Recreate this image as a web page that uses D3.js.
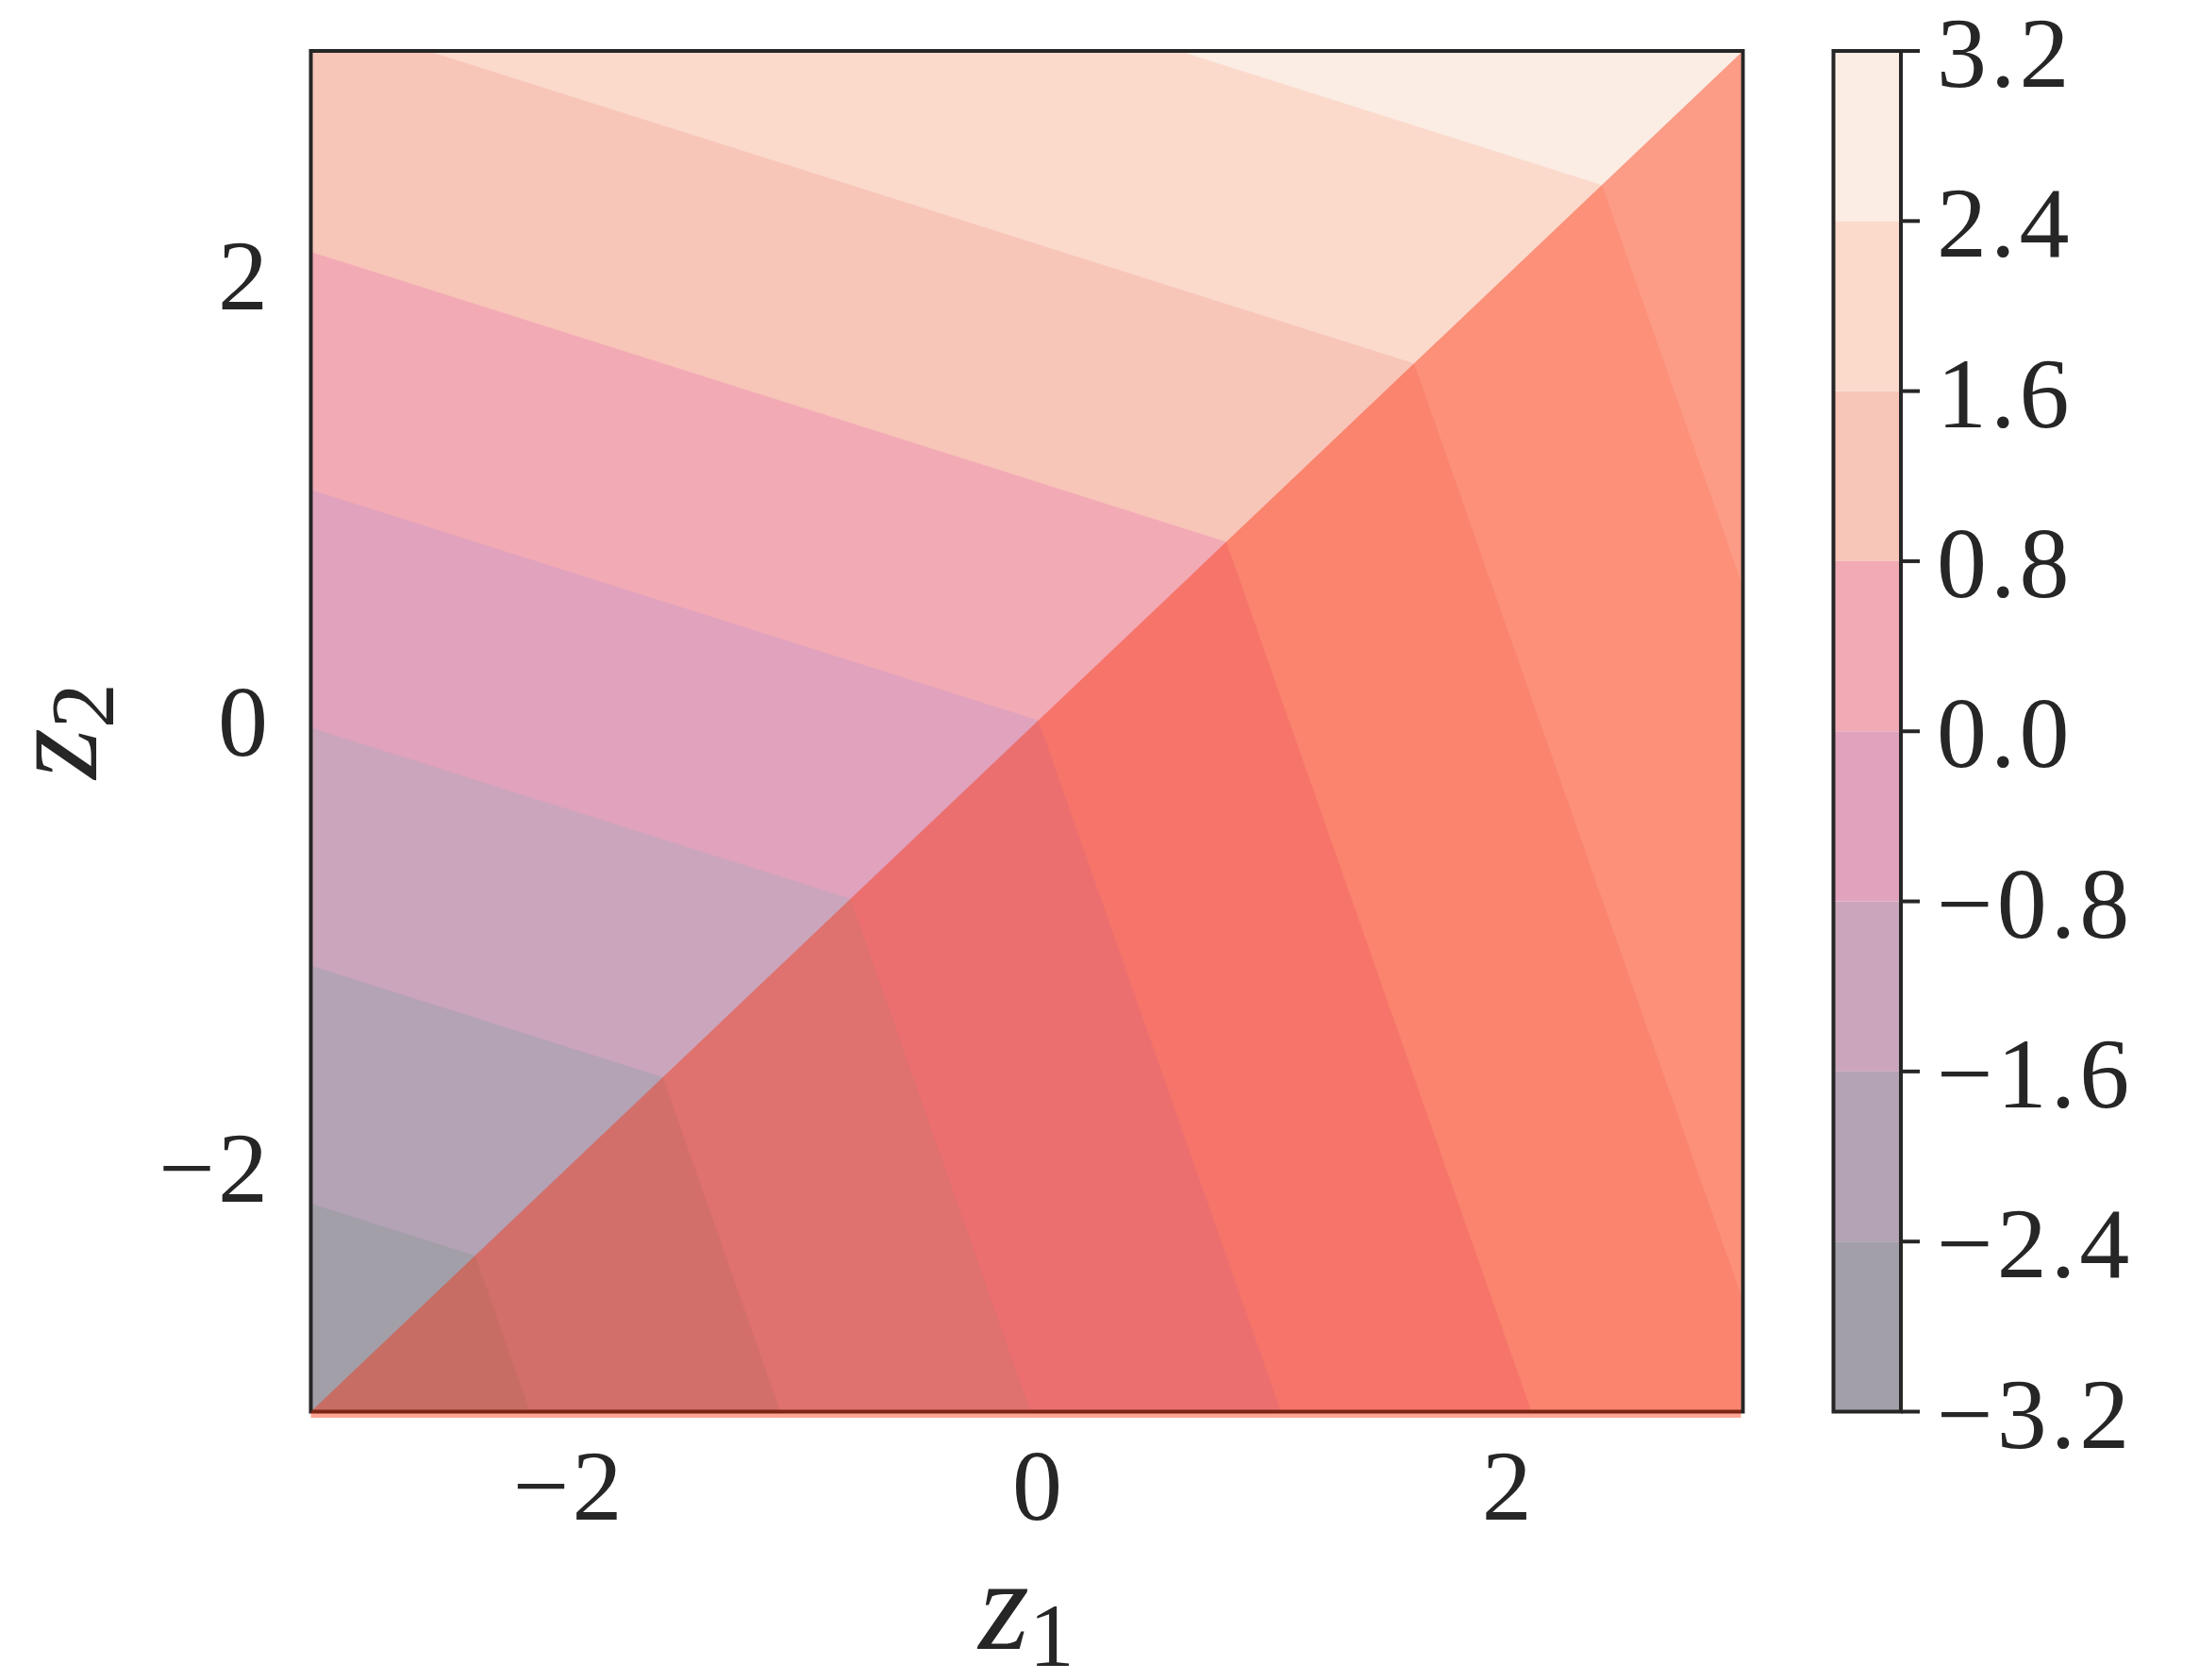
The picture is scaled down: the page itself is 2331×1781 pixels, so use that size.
<!DOCTYPE html>
<html>
<head>
<meta charset="utf-8">
<script src="https://cdn.jsdelivr.net/npm/d3@7"></script>
<style>
  body { margin: 0; background: #fff; }
  text { font-family: "Liberation Serif", "Times New Roman", serif; fill: #262626; }
</style>
</head>
<body>
<div id="vis"></div>
<script>
// data
var domainZ = [-3.1, 3.0];                 // z1 and z2 extent of the grid
var weights = {max: 0.75, min: 0.25};      // f = 0.75*max(z1,z2) + 0.25*min(z1,z2)
var levels = [-3.2, -2.4, -1.6, -0.8, 0.0, 0.8, 1.6, 2.4, 3.2];
var levelColors = ["#a29fa9", "#b4a2b5", "#cba5bb", "#e0a2bd", "#f2aab5", "#f8c5b9", "#fbdacc", "#fbede4"];
var overlayColor = "rgba(253,40,0,0.41)";   // red wash over the z2 < z1 half
var xTicks = [-2, 0, 2];
var yTicks = [-2, 0, 2];
var cbTicks = levels;

var W = 2331, H = 1781;
var svg = d3.select("#vis").append("svg").attr("width", W).attr("height", H);

// scales
var x = d3.scaleLinear().domain(domainZ).range([329.5, 1847.5]);
var y = d3.scaleLinear().domain(domainZ).range([1496.5, 54]);
var fmt = function(v, d){ var s = d3.format("." + d + "f")(v); return s.replace("-", "\u2212"); };

// grid of the function
var n = 610, m = 580;
var values = new Float64Array(n * m);
for (var j = 0; j < m; j++) {
  var z2 = domainZ[1] - (j + 0.5) * (domainZ[1] - domainZ[0]) / m;
  for (var i = 0; i < n; i++) {
    var z1 = domainZ[0] + (i + 0.5) * (domainZ[1] - domainZ[0]) / n;
    values[j * n + i] = weights.max * Math.max(z1, z2) + weights.min * Math.min(z1, z2);
  }
}
var gx = d3.scaleLinear().domain([0, n]).range([x(domainZ[0]), x(domainZ[1])]);
var gy = d3.scaleLinear().domain([0, m]).range([y(domainZ[1]), y(domainZ[0])]);
var path = d3.geoPath(d3.geoTransform({point: function(px, py){ this.stream.point(gx(px), gy(py)); }}));

svg.append("clipPath").attr("id", "plotclip").append("rect")
  .attr("x", x(domainZ[0])).attr("y", y(domainZ[1]))
  .attr("width", x(domainZ[1]) - x(domainZ[0])).attr("height", y(domainZ[0]) - y(domainZ[1]));

var contours = d3.contours().size([n, m]).thresholds(levels.slice(0, -1))(values);
svg.append("g").attr("clip-path", "url(#plotclip)")
  .selectAll("path").data(contours).enter().append("path")
  .attr("d", path)
  .attr("fill", function(d){ return levelColors[levels.indexOf(d.value)]; })
  .attr("stroke", function(d){ return levelColors[levels.indexOf(d.value)]; })
  .attr("stroke-width", 0.5);

// frame
svg.append("rect")
  .attr("x", x(domainZ[0])).attr("y", y(domainZ[1]))
  .attr("width", x(domainZ[1]) - x(domainZ[0])).attr("height", y(domainZ[0]) - y(domainZ[1]))
  .attr("fill", "none").attr("stroke", "#262626").attr("stroke-width", 4);

// red wash below the diagonal (runs over the bottom spine a little)
var ov = [[x(domainZ[0]), y(domainZ[0])], [x(domainZ[1]) - 2, y(domainZ[1]) + 2],
          [x(domainZ[1]) - 2, y(domainZ[0]) + 6.5], [x(domainZ[0]), y(domainZ[0]) + 6.5]];
svg.append("path").attr("d", "M" + ov.join("L") + "Z").attr("fill", overlayColor);

// tick labels
svg.append("g").selectAll("text").data(xTicks).enter().append("text")
  .attr("x", function(d){ return x(d); }).attr("y", 1611)
  .attr("text-anchor", "middle").attr("font-size", 106).attr("letter-spacing", 3)
  .text(function(d){ return fmt(d, 0); });
svg.append("g").selectAll("text").data(yTicks).enter().append("text")
  .attr("x", 287).attr("y", function(d){ return y(d) + 38; })
  .attr("text-anchor", "end").attr("font-size", 106).attr("letter-spacing", 3)
  .text(function(d){ return fmt(d, 0); });

// axis labels
var xl = svg.append("text").attr("x", 1088).attr("y", 1748).attr("text-anchor", "middle").attr("font-size", 138);
xl.append("tspan").attr("font-style", "italic").text("z");
xl.append("tspan").attr("font-size", 96).attr("dy", 18).text("1");
var yl = svg.append("text").attr("transform", "translate(102,775) rotate(-90)").attr("text-anchor", "middle").attr("font-size", 138);
yl.append("tspan").attr("font-style", "italic").text("z");
yl.append("tspan").attr("font-size", 96).attr("dy", 18).text("2");

// colorbar
var cbL = 1943.5, cbR = 2015;
var yCb = d3.scaleLinear().domain([levels[0], levels[levels.length - 1]]).range([1496.5, 54]);
svg.append("g").selectAll("rect").data(levelColors).enter().append("rect")
  .attr("x", cbL).attr("width", cbR - cbL)
  .attr("y", function(d, k){ return yCb(levels[k + 1]); })
  .attr("height", function(d, k){ return yCb(levels[k]) - yCb(levels[k + 1]); })
  .attr("fill", function(d){ return d; });
svg.append("rect").attr("x", cbL).attr("y", yCb.range()[1])
  .attr("width", cbR - cbL).attr("height", yCb.range()[0] - yCb.range()[1])
  .attr("fill", "none").attr("stroke", "#262626").attr("stroke-width", 4);
var cbAxis = svg.append("g");
cbAxis.selectAll("line").data(cbTicks).enter().append("line")
  .attr("x1", cbR).attr("x2", 2035)
  .attr("y1", function(d){ return yCb(d); }).attr("y2", function(d){ return yCb(d); })
  .attr("stroke", "#262626").attr("stroke-width", 4);
cbAxis.selectAll("text").data(cbTicks).enter().append("text")
  .attr("x", 2053).attr("y", function(d){ return yCb(d) + 38; })
  .attr("font-size", 106).attr("letter-spacing", 4)
  .text(function(d){ return fmt(d, 1); });
</script>
</body>
</html>
